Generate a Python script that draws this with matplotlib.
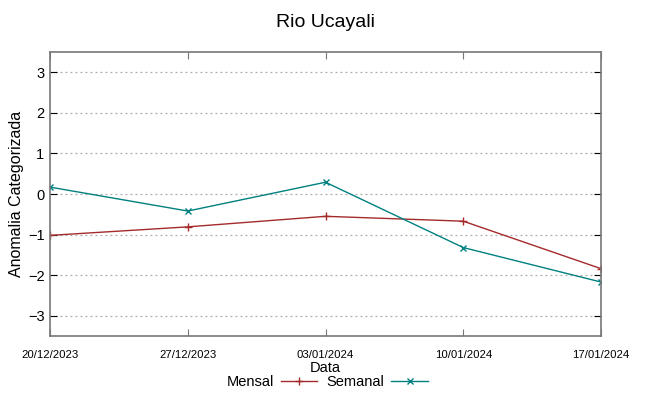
import numpy as np
import pandas as pd
from matplotlib import pyplot as plt

plt.rcParams['font.family'] = ['Liberation Sans', 'DejaVu Sans']

# dados
datas = ['20/12/2023', '27/12/2023', '03/01/2024', '10/01/2024', '17/01/2024']
mensal = [-1.02, -0.81, -0.55, -0.67, -1.84]
semanal = [0.17, -0.42, 0.29, -1.32, -2.17]

x = pd.to_datetime(datas, format='%d/%m/%Y')

fig = plt.figure(figsize=[6.49, 3.96], dpi=100, facecolor="white")
ax = fig.add_axes([50/649, 1-336/396, 551/649, 284/396])

ax.plot(x, mensal, '-', color='#a52a2a', marker='+', markersize=6, mew=1, lw=1, label='Mensal')
ax.plot(x, semanal, '-', color='#008080', marker='x', markersize=4.5, mew=1, lw=1, label='Semanal')

ax.set_xlim(x[0], x[-1])
ax.set_ylim(-3.5, 3.5)
ax.set_yticks([-3, -2, -1, 0, 1, 2, 3])
ax.set_xticks(x)
ax.set_xticklabels(datas, fontsize=8.2)
ax.tick_params(axis='y', labelsize=10.5, direction='in', length=5, right=True, color='black', pad=4)
ax.tick_params(axis='x', direction='in', length=5, top=True, color='#777777', pad=10)
ax.grid(True, axis='y', color='#aaaaaa', linestyle=(0, (1.5, 2.5)), lw=0.9)
for s in ax.spines.values():
    s.set_color('#777777')
    s.set_linewidth(1.2)

ax.set_title('Rio Ucayali', fontsize=14, pad=18)
ax.set_ylabel('Anomalia Categorizada', fontsize=11.5)
ax.yaxis.set_label_coords(-0.047, 0.5)
ax.set_xlabel('Data', fontsize=10.5, labelpad=1)

fig.legend(loc='center', bbox_to_anchor=(327/649, 1-382/396), ncol=2, frameon=False,
           markerfirst=False, fontsize=10.5, handlelength=2.5, columnspacing=0.6,
           handletextpad=0.5, borderpad=0)

plt.savefig('out.png', dpi=100)
